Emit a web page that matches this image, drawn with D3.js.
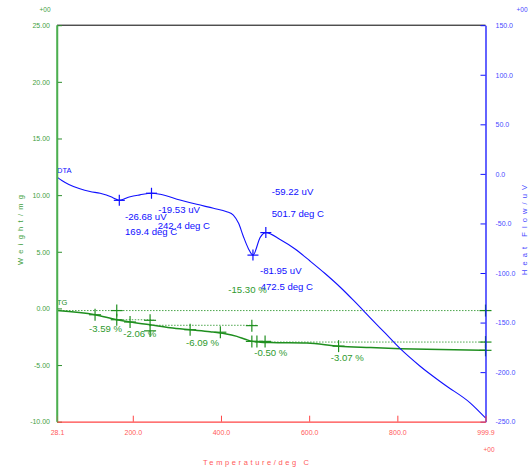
<!DOCTYPE html>
<html><head><meta charset="utf-8">
<script src="https://cdn.jsdelivr.net/npm/d3@7"></script>
<style>body{margin:0;background:#fff}svg{font-family:"Liberation Sans",Arial,sans-serif}</style>
</head><body><svg id="c" width="532" height="470"></svg>
<script>
// ---- data ----
const tempTicks = [28.1, 200, 400, 600, 800, 999.9];
const weightTicks = [25, 20, 15, 10, 5, 0, -5, -10];
const heatTicks = [150, 100, 50, 0, -50, -100, -150, -200, -250];

const dtaT = [28.1, 40, 55, 80, 103, 126, 140, 155, 169.4, 194, 216, 242.4, 262, 307, 345, 383, 413, 428, 440, 451, 462, 472.5, 489, 501.7, 534, 568, 602, 636, 670, 704, 738, 772, 806, 851, 908, 965, 999.9];
const dtaV = [-3.3, -7.0, -10.6, -15.0, -17.8, -19.6, -21.3, -24.0, -26.68, -23, -21.2, -19.53, -20.5, -26.3, -30.7, -34.7, -38.1, -41.5, -49.9, -63.4, -75.2, -81.95, -64, -59.22, -66.2, -75.8, -87.9, -100.5, -114.1, -129.2, -144.9, -160.5, -176.1, -193.8, -213, -231, -246.3];

const tgT = [28.1, 114.4, 163.6, 193.8, 239.2, 284.6, 330, 375.4, 409.5, 436, 455, 471, 489, 512, 595, 667, 739, 807, 898, 999.9];
const tgW = [-0.19, -0.56, -1.0, -1.2, -1.44, -1.70, -1.88, -2.05, -2.23, -2.47, -2.72, -2.91, -2.98, -3.01, -3.05, -3.35, -3.46, -3.55, -3.62, -3.70];

const dtaPeakT = [169.4, 242.4, 472.5, 501.7];
const dtaPeakV = [-26.68, -19.53, -81.95, -59.22];

const tgLevelW = [-0.19, -1.0, -1.49, -2.97];
const tgLevelFrom = [28.1, 163.6, 239.2, 500];
const tgLevelTo = [999.9, 246.6, 481.5, 999.9];

const tgMarkT = [114.4, 163.6, 163.6, 193.8, 239.2, 239.2, 330, 398.6, 470, 470, 481.5, 500, 666.7, 999.9, 999.9, 999.9];
const tgMarkW = [-0.56, -0.19, -1.0, -1.2, -1.05, -1.98, -1.88, -2.1, -1.52, -2.91, -2.91, -2.91, -3.33, -0.19, -2.97, -3.70];

const dtaLabels = ["-26.68 uV", "169.4 deg C", "-19.53 uV", "242.4 deg C", "-59.22 uV", "501.7 deg C", "-81.95 uV", "472.5 deg C"];
const dtaLabelT = [182.3, 182.3, 257.9, 256.5, 515.1, 515.1, 488.5, 490.1];
const dtaLabelV = [-43.2, -58.3, -35.7, -51.6, -17.3, -39.7, -97.7, -113.8];

const tgLabels = ["-3.59 %", "-2.06 %", "-6.09 %", "-0.50 %", "-3.07 %", "-15.30 %"];
const tgLabelT = [100.7, 178.5, 320.7, 475.6, 648.9, 416.6];
const tgLabelW = [-1.79, -2.23, -3.05, -3.91, -4.37, 1.65];

// ---- drawing ----
const svg = d3.select("#c");
const L = 57, R = 485.5, T = 25.2, B = 421.7;
const x = d3.scaleLinear().domain([28.1, 999.9]).range([L, R]);
const yW = d3.scaleLinear().domain([-10, 25]).range([B, T]);
const yH = d3.scaleLinear().domain([-250, 150]).range([B, T]);

const cGreen = "#4caf50", cGreenTxt = "#3f9f3f", cTG = "#1f8f1f";
const cBlue = "#1010ff", cBlueTxt = "#4848ff";
const cRed = "#ff4444", cRedTxt = "#ff5a5a";

// top border
svg.append("line").attr("x1", L).attr("x2", R).attr("y1", T).attr("y2", T)
  .attr("stroke", "#000").attr("stroke-width", 1);

// TG dotted levels
svg.append("g").selectAll("line").data(tgLevelW).join("line")
  .attr("x1", (d, i) => x(tgLevelFrom[i])).attr("x2", (d, i) => x(tgLevelTo[i]))
  .attr("y1", d => yW(d)).attr("y2", d => yW(d))
  .attr("stroke", cTG).attr("stroke-width", 0.8).attr("stroke-dasharray", "1.5,1.5");

// TG curve
const tgData = tgT.map((t, i) => [t, tgW[i]]);
svg.append("path").datum(tgData)
  .attr("d", d3.line().x(d => x(d[0])).y(d => yW(d[1])).curve(d3.curveMonotoneX))
  .attr("fill", "none").attr("stroke", cTG).attr("stroke-width", 1.5);

// DTA curve
const dtaData = dtaT.map((t, i) => [t, dtaV[i]]);
svg.append("path").datum(dtaData)
  .attr("d", d3.line().x(d => x(d[0])).y(d => yH(d[1])).curve(d3.curveMonotoneX))
  .attr("fill", "none").attr("stroke", cBlue).attr("stroke-width", 1.1);

function cross(g, px, py, s, color) {
  g.append("line").attr("x1", px - s).attr("x2", px + s).attr("y1", py).attr("y2", py).attr("stroke", color).attr("stroke-width", 1.2);
  g.append("line").attr("x1", px).attr("x2", px).attr("y1", py - s).attr("y2", py + s).attr("stroke", color).attr("stroke-width", 1.2);
}
const gm = svg.append("g");
dtaPeakT.forEach((t, i) => cross(gm, x(t), yH(dtaPeakV[i]), 5.5, cBlue));
tgMarkT.forEach((t, i) => cross(gm, x(t), yW(tgMarkW[i]), 6, cTG));

// labels
svg.append("g").selectAll("text").data(dtaLabels).join("text")
  .attr("x", (d, i) => x(dtaLabelT[i])).attr("y", (d, i) => yH(dtaLabelV[i]))
  .attr("dominant-baseline", "central").attr("font-size", 9.6).attr("fill", cBlue).text(d => d);
svg.append("g").selectAll("text").data(tgLabels).join("text")
  .attr("x", (d, i) => x(tgLabelT[i])).attr("y", (d, i) => yW(tgLabelW[i]))
  .attr("dominant-baseline", "central").attr("font-size", 9.6).attr("fill", "#2e9a2e").text(d => d);

svg.append("text").attr("x", L).attr("y", yH(3)).attr("font-size", 7.5).attr("fill", cBlue)
  .attr("dominant-baseline", "central").text("DTA");
svg.append("text").attr("x", L).attr("y", yW(0.5)).attr("font-size", 7.5).attr("fill", cTG)
  .attr("dominant-baseline", "central").text("TG");

// axes
const axL = d3.axisLeft(yW).tickValues(weightTicks).tickSizeInner(-5).tickSizeOuter(0).tickPadding(7).tickFormat(d => d.toFixed(2));
const gL = svg.append("g").attr("transform", `translate(${L},0)`).call(axL);
gL.select(".domain").attr("stroke", cGreen).attr("stroke-width", 1.5);
gL.selectAll(".tick line").attr("stroke", "#2f8f2f");
gL.selectAll(".tick text").attr("fill", cGreenTxt).attr("font-size", 7).attr("font-family", "Liberation Sans, Arial, sans-serif");

const axR = d3.axisRight(yH).tickValues(heatTicks).tickSizeInner(-5).tickSizeOuter(0).tickPadding(10).tickFormat(d => d.toFixed(1));
const gR = svg.append("g").attr("transform", `translate(${R},0)`).call(axR);
gR.select(".domain").attr("stroke", cBlue).attr("stroke-width", 1.3);
gR.selectAll(".tick line").attr("stroke", cBlue);
gR.selectAll(".tick text").attr("fill", cBlueTxt).attr("font-size", 7).attr("font-family", "Liberation Sans, Arial, sans-serif");

const axB = d3.axisBottom(x).tickValues(tempTicks).tickSizeInner(-6).tickSizeOuter(0).tickPadding(8).tickFormat(d => d.toFixed(1));
const gB = svg.append("g").attr("transform", `translate(0,${B})`).call(axB);
gB.select(".domain").attr("stroke", cRed).attr("stroke-width", 1.3);
gB.selectAll(".tick line").attr("stroke", cRed);
gB.selectAll(".tick text").attr("fill", cRedTxt).attr("font-size", 7).attr("font-family", "Liberation Sans, Arial, sans-serif");
svg.append("line").attr("x1", L).attr("x2", L).attr("y1", T).attr("y2", B).attr("stroke", cGreen).attr("stroke-width", 1.5);

// exponents
svg.append("text").attr("x", 45).attr("y", 9).attr("text-anchor", "middle").attr("dominant-baseline", "central")
  .attr("font-size", 6.5).attr("fill", cGreenTxt).text("+00");
svg.append("text").attr("x", 522).attr("y", 9).attr("text-anchor", "middle").attr("dominant-baseline", "central")
  .attr("font-size", 6.5).attr("fill", cBlueTxt).text("+00");
svg.append("text").attr("x", 489).attr("y", 449).attr("text-anchor", "middle").attr("dominant-baseline", "central")
  .attr("font-size", 6.5).attr("fill", cRedTxt).text("+00");

// axis titles
svg.append("text").attr("x", 256).attr("y", 462).attr("text-anchor", "middle").attr("dominant-baseline", "central")
  .attr("font-size", 7.5).attr("fill", cRedTxt).attr("textLength", 106).attr("lengthAdjust", "spacing")
  .text("Temperature/deg C");
svg.append("text").attr("transform", "translate(20.5,230) rotate(-90)").attr("text-anchor", "middle")
  .attr("dominant-baseline", "central").attr("font-size", 7.5).attr("fill", cGreenTxt)
  .attr("textLength", 70).attr("lengthAdjust", "spacing").text("Weight/mg");
svg.append("text").attr("transform", "translate(524.5,230) rotate(-90)").attr("text-anchor", "middle")
  .attr("dominant-baseline", "central").attr("font-size", 7.5).attr("fill", cBlueTxt)
  .attr("textLength", 90).attr("lengthAdjust", "spacing").text("Heat Flow/uV");
</script></body></html>
